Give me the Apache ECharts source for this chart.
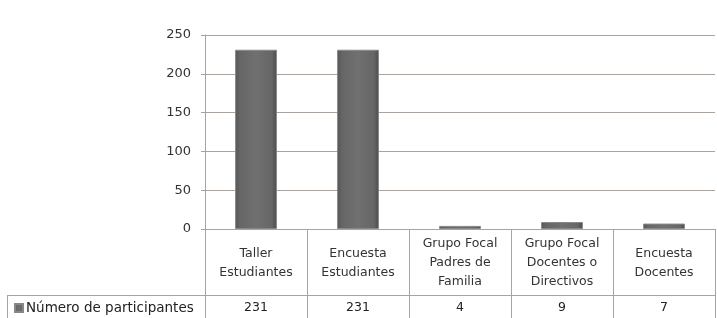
<!DOCTYPE html>
<html><head><meta charset="utf-8">
<script src="https://cdn.jsdelivr.net/npm/echarts@6/dist/echarts.min.js"></script>
<style>html,body{margin:0;padding:0;background:#fff}#c{width:717px;height:318px}</style>
</head><body><div id="c"></div>
<script>
const categories = ["Taller\nEstudiantes", "Encuesta\nEstudiantes", "Grupo Focal\nPadres de\nFamilia", "Grupo Focal\nDocentes o\nDirectivos", "Encuesta\nDocentes"];
const participantes = [231, 231, 4, 9, 7];
const seriesName = "Número de participantes";
const yTicks = {min: 0, max: 250, interval: 50};

const lineColor = '#aaa29c';
const chart = echarts.init(document.getElementById('c'));
const font = 'DejaVu Sans';
chart.setOption({
  animation: false,
  grid: {left: 205, right: 2, top: 35, bottom: 89, containLabel: false},
  legend: {
    data: [seriesName], left: 14, top: 301, icon: 'rect', itemWidth: 8, itemHeight: 8, itemGap: 4,
    textStyle: {fontFamily: font, fontSize: 13.5, color: '#222', padding: [0,0,0,-2]}, padding: 0
  },
  xAxis: [{
    type: 'category', data: categories, position: 'bottom',
    axisLine: {show: true, lineStyle: {color: lineColor}},
    axisTick: {show: true, length: 66, inside: false, lineStyle: {color: lineColor}},
    axisLabel: {margin: 34, verticalAlign: 'middle', fontFamily: font, fontSize: 12.5, color: '#333', lineHeight: 19, interval: 0}
  }, {
    type: 'category', data: participantes.map(String), position: 'bottom', offset: 66,
    axisLine: {show: true, lineStyle: {color: lineColor}},
    axisTick: {show: true, length: 30, lineStyle: {color: lineColor}},
    axisLabel: {margin: 13, verticalAlign: 'middle', fontFamily: font, fontSize: 12.5, color: '#222', interval: 0}
  }],
  yAxis: {
    type: 'value', min: yTicks.min, max: yTicks.max, interval: yTicks.interval,
    axisLine: {show: true, lineStyle: {color: lineColor}},
    axisTick: {show: true, length: 4, lineStyle: {color: lineColor}},
    axisLabel: {margin: 14, fontFamily: font, fontSize: 13, color: '#333'},
    splitLine: {show: true, lineStyle: {color: lineColor, width: 1}}
  },
  series: [{
    name: seriesName, type: 'bar', data: participantes, xAxisIndex: 0, barWidth: '41%',
    itemStyle: {
      color: new echarts.graphic.LinearGradient(0, 0, 1, 0, [
        {offset: 0, color: '#555555'}, {offset: 0.12, color: '#666666'},
        {offset: 0.5, color: '#707070'}, {offset: 0.88, color: '#666666'}, {offset: 1, color: '#4a4a4a'}
      ]),
      borderColor: '#888888', borderWidth: 1
    }
  }],
  graphic: [
    {type: 'line', shape: {x1: 7, y1: 295.5, x2: 205, y2: 295.5}, style: {stroke: lineColor, lineWidth: 1}},
    {type: 'line', shape: {x1: 7.5, y1: 295, x2: 7.5, y2: 318}, style: {stroke: lineColor, lineWidth: 1}}
  ]
});
</script></body></html>
